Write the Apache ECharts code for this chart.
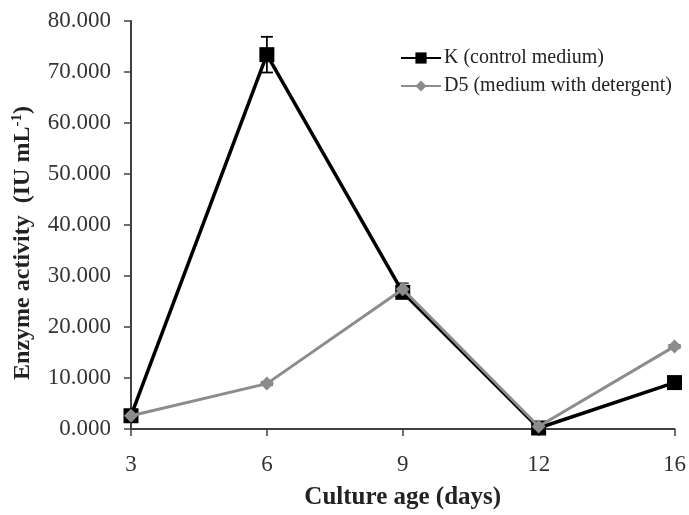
<!DOCTYPE html>
<html><head><meta charset="utf-8">
<script src="https://cdn.jsdelivr.net/npm/echarts@6/dist/echarts.min.js"></script>
<style>html,body{margin:0;padding:0;background:#fff}#c{width:689px;height:515px}</style>
</head><body><div id="c"></div>
<script>
const categories = ['3','6','9','12','16'];
const kValues = [2.6, 73.4, 26.8, 0.2, 9.1];
const kErrors = [0.3, 3.5, 0.8, 0.1, 0.3];
const d5Values = [2.6, 8.9, 27.4, 0.5, 16.2];
const d5Errors = [0.2, 0.3, 1.2, 0.1, 0.3];
const yTicks = [0, 10, 20, 30, 40, 50, 60, 70, 80];

const font = '"Liberation Serif", "Times New Roman", serif';
function errData(vals, errs){ return vals.map((v,i)=>[i, v-errs[i], v+errs[i]]); }
function errSeries(vals, errs, color, z){
  return {
    type:'custom', data: errData(vals, errs), z: z, silent:true,
    renderItem: function(params, api){
      const x = api.value(0);
      const lo = api.coord([x, api.value(1)]);
      const hi = api.coord([x, api.value(2)]);
      const w = 6;
      const st = {stroke: color, lineWidth: 1.8};
      return {type:'group', children:[
        {type:'line', shape:{x1:lo[0],y1:lo[1],x2:hi[0],y2:hi[1]}, style:st},
        {type:'line', shape:{x1:hi[0]-w,y1:hi[1],x2:hi[0]+w,y2:hi[1]}, style:st},
        {type:'line', shape:{x1:lo[0]-w,y1:lo[1],x2:lo[0]+w,y2:lo[1]}, style:st}
      ]};
    }
  };
}
const chart = echarts.init(document.getElementById('c'));
chart.setOption({
  backgroundColor:'#fff',
  animation:false,
  grid:{left:131, right:13, top:21, bottom:73},
  legend:{
    data:['K (control medium)','D5 (medium with detergent)'],
    orient:'vertical', left:395, top:43, itemGap:8, itemWidth:40, itemHeight:14,
    textStyle:{fontFamily:font, fontSize:20, color:'#222', padding:[0,0,0,-2]}
  },
  xAxis:{
    type:'category', data:categories, boundaryGap:false,
    axisLine:{lineStyle:{color:'#404040', width:2}},
    axisTick:{alignWithLabel:true, length:7, lineStyle:{color:'#404040', width:1.5}},
    axisLabel:{fontFamily:font, fontSize:23, color:'#333', margin:24},
    name:'Culture age (days)', nameLocation:'middle', nameGap:56,
    nameTextStyle:{fontFamily:font, fontSize:25, fontWeight:'bold', color:'#222'}
  },
  yAxis:{
    type:'value', min:0, max:80, interval:10,
    axisLine:{show:true, lineStyle:{color:'#404040', width:2}},
    axisTick:{show:true, length:7, lineStyle:{color:'#404040', width:1.5}},
    splitLine:{show:false},
    axisLabel:{fontFamily:font, fontSize:23, color:'#333', margin:20,
      formatter:v=>v.toFixed(3)},
    name:'{a|Enzyme activity  (IU mL}{s|-1}{a|)}', nameLocation:'middle', nameGap:96,
    nameTextStyle:{padding:[0,0,0,-36], rich:{
      a:{fontFamily:font, fontSize:24, fontWeight:'bold', color:'#222'},
      s:{fontFamily:font, fontSize:15, fontWeight:'bold', color:'#222', verticalAlign:'top', padding:[0,0,10,0]}
    }}
  },
  series:[
    errSeries(kValues, kErrors, '#000', 1),
    errSeries(d5Values, d5Errors, '#555', 1),
    {name:'K (control medium)', type:'line', data:kValues, z:3,
      symbol:'rect', symbolSize:15, showAllSymbol:true,
      lineStyle:{color:'#000', width:3.5}, itemStyle:{color:'#000'}},
    {name:'D5 (medium with detergent)', type:'line', data:d5Values, z:4,
      symbol:'diamond', symbolSize:14,
      lineStyle:{color:'#8c8c8c', width:3}, itemStyle:{color:'#8c8c8c'}}
  ]
});
</script></body></html>
